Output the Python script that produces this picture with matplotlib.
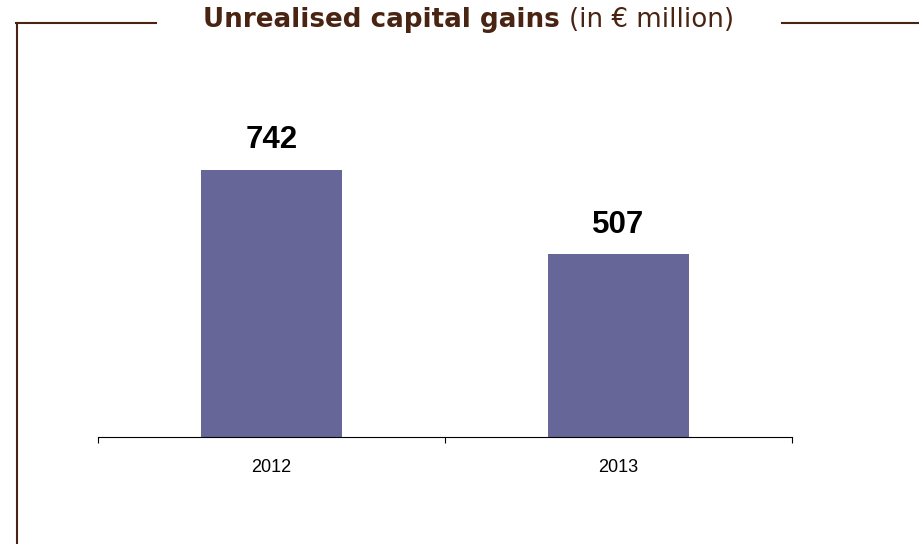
import matplotlib
matplotlib.use("Agg")
import matplotlib.pyplot as plt
from matplotlib.lines import Line2D

years = ["2012", "2013"]
gains = [742, 507]

bar_color = "#666699"
brown = "#4a2412"

W, H = 919, 544
fig = plt.figure(figsize=(W / 100, H / 100), dpi=100)
fig.patch.set_facecolor("white")

def fx(px):
    return px / W

def fy(py):
    return 1 - py / H

# plot area: baseline at y=437 px, spanning x 98..792 px
ax = fig.add_axes([fx(98), fy(437), fx(792) - fx(98), (437 - 100) / H])
x = list(range(len(years)))
ax.bar(x, gains, width=0.405, color=bar_color, zorder=2)
ax.set_xlim(-0.5, len(years) - 0.5)
ax.set_ylim(0, 337 / 0.3605)

for xi, v in zip(x, gains):
    ax.annotate(f"{v}", (xi, v), xytext=(0, 10.5), textcoords="offset points",
                ha="center", va="bottom", fontsize=22.5, fontweight="bold",
                family="Liberation Sans", color="black")

for s in ["top", "right", "left"]:
    ax.spines[s].set_visible(False)
ax.spines["bottom"].set_color("black")
ax.spines["bottom"].set_linewidth(0.8)
ax.set_yticks([])

# major ticks on category boundaries, labels on category centres
ax.set_xticks([i - 0.5 for i in range(len(years) + 1)])
ax.set_xticklabels([])
ax.tick_params(axis="x", which="major", direction="out", length=4, width=0.8, color="black")
ax.set_xticks(x, minor=True)
ax.set_xticklabels(years, minor=True, fontsize=13, family="Liberation Sans")
ax.tick_params(axis="x", which="minor", length=0, pad=16)

# frame around the panel, broken by the title
lw = 1.5
fig.add_artist(Line2D([fx(16.5), fx(16.5)], [fy(23), fy(544)], color=brown, lw=lw))
fig.add_artist(Line2D([fx(16), fx(156)], [fy(23), fy(23)], color=brown, lw=lw))
fig.add_artist(Line2D([fx(782), fx(919)], [fy(23), fy(23)], color=brown, lw=lw))

# title: bold part followed by regular part, centred in the gap of the frame
title_bold = "Unrealised capital gains"
title_rest = "(in € million)"
centre_px, gap_px = 468.5, 10
fs = 18.8
renderer = fig.canvas.get_renderer()
t1 = fig.text(0, fy(27), title_bold, fontsize=fs, fontweight="bold",
              family="DejaVu Sans", color=brown, ha="left", va="baseline")
t2 = fig.text(0, fy(27), title_rest, fontsize=fs,
              family="DejaVu Sans", color=brown, ha="left", va="baseline")
w1 = t1.get_window_extent(renderer).width
w2 = t2.get_window_extent(renderer).width
left_px = centre_px - (w1 + gap_px + w2) / 2
t1.set_x(fx(left_px))
t2.set_x(fx(left_px + w1 + gap_px))

fig.savefig("out.png", dpi=100, facecolor="white")
